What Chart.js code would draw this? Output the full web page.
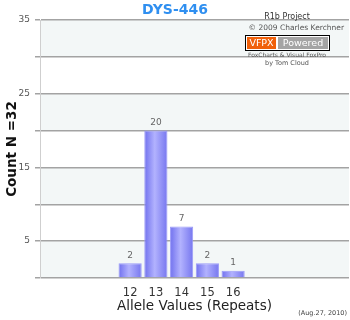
<!DOCTYPE html>
<html>
<head>
<meta charset="utf-8">
<script src="https://cdn.jsdelivr.net/npm/chart.js@4"></script>
<style>
  html, body { margin: 0; padding: 0; background: #fff; }
  #wrap { width: 350px; height: 320px; }
</style>
</head>
<body>
<div id="wrap"><canvas id="c" width="350" height="320"></canvas></div>
<script>
// allele values shown on the x axis (blank slots keep the axis width)
const alleles = ['9', '10', '11', '12', '13', '14', '15', '16', '17', '18', '19', '20'];
const shownAlleles = ['12', '13', '14', '15', '16'];
const counts = [null, null, null, 2, 20, 7, 2, 1, null, null, null, null];
const yTickLabels = [5, 15, 25, 35];

const FONT = '"DejaVu Sans", Verdana, sans-serif';

// alternating horizontal bands behind the grid
const bands = {
    id: 'bands',
    beforeDraw(chart) {
        const { ctx, chartArea: a, scales: { y } } = chart;
        ctx.save();
        ctx.fillStyle = '#f3f7f7';
        for (let v = 0; v < 35; v += 10) {
            const top = y.getPixelForValue(v + 5);
            const bot = y.getPixelForValue(v);
            ctx.fillRect(a.left, top, a.right - a.left, bot - top);
        }
        ctx.restore();
    }
};

// value labels above the bars
const valueLabels = {
    id: 'valueLabels',
    afterDatasetsDraw(chart) {
        const { ctx } = chart;
        const meta = chart.getDatasetMeta(0);
        ctx.save();
        ctx.font = '9px ' + FONT;
        ctx.fillStyle = '#666';
        ctx.textAlign = 'center';
        ctx.textBaseline = 'bottom';
        meta.data.forEach((bar, i) => {
            if (counts[i] == null) return;
            ctx.fillText(String(counts[i]), bar.x, bar.y - 3);
        });
        ctx.restore();
    }
};

// credits / badge / date texts
const notes = {
    id: 'notes',
    afterDraw(chart) {
        const { ctx } = chart;
        ctx.save();
        ctx.textBaseline = 'middle';

        ctx.font = 'bold 14px ' + FONT;
        ctx.fillStyle = '#2f8ff0';
        ctx.textAlign = 'center';
        ctx.fillText('DYS-446', 175, 10);

        ctx.font = '8px ' + FONT;
        ctx.fillStyle = '#333';
        ctx.fillText('R1b Project', 287, 17);
        ctx.font = '7.5px ' + FONT;
        ctx.fillStyle = '#555';
        ctx.textAlign = 'right';
        ctx.fillText('\u00a9 2009 Charles Kerchner', 344, 28);

        // VFPX Powered badge
        ctx.fillStyle = '#fff';
        ctx.fillRect(245, 35, 85, 16);
        ctx.strokeStyle = '#000';
        ctx.lineWidth = 1;
        ctx.strokeRect(245.5, 35.5, 84, 15);
        ctx.fillStyle = '#f0600a';
        ctx.fillRect(247, 37, 29, 12);
        ctx.fillStyle = '#a4a4a4';
        ctx.fillRect(278, 37, 50, 12);
        ctx.fillStyle = '#fff';
        ctx.textAlign = 'center';
        ctx.font = '9.5px ' + FONT;
        ctx.fillText('VFPX', 261.5, 43.5);
        ctx.fillText('Powered', 303, 43.5);

        ctx.fillStyle = '#555';
        ctx.font = '6px ' + FONT;
        ctx.fillText('FoxCharts & Visual FoxPro', 287, 55);
        ctx.font = '6.5px ' + FONT;
        ctx.fillText('by Tom Cloud', 287, 63);

        ctx.font = '6.5px ' + FONT;
        ctx.fillStyle = '#444';
        ctx.textAlign = 'right';
        ctx.fillText('(Aug.27, 2010)', 347, 313);
        ctx.restore();
    }
};

function barFill(context) {
    const chart = context.chart;
    const x = chart.scales.x;
    if (!x || x.width == null) return '#8c8cf4';
    const cx = x.getPixelForValue(context.dataIndex);
    const half = (x.width / alleles.length) * 0.9 / 2;
    const g = chart.ctx.createLinearGradient(cx - half, 0, cx + half, 0);
    g.addColorStop(0, '#7070ee');
    g.addColorStop(0.45, '#b2b2fe');
    g.addColorStop(1, '#7676ef');
    return g;
}

new Chart(document.getElementById('c'), {
    type: 'bar',
    data: {
        labels: alleles,
        datasets: [{
            data: counts,
            backgroundColor: barFill,
            borderColor: '#9a9af8',
            borderWidth: 1,
            barPercentage: 0.9,
            categoryPercentage: 1
        }]
    },
    options: {
        responsive: false,
        animation: false,
        layout: { padding: { top: 20, right: 1, left: 0, bottom: 0 } },
        plugins: { legend: { display: false }, tooltip: { enabled: false } },
        scales: {
            x: {
                grid: { display: false, drawTicks: false },
                border: { display: false },
                ticks: {
                    color: '#333',
                    font: { family: FONT, size: 11.5 },
                    padding: 8,
                    maxRotation: 0,
                    autoSkip: false,
                    callback: (v, i) => shownAlleles.includes(alleles[i]) ? alleles[i] : ''
                },
                title: {
                    display: true,
                    text: 'Allele Values (Repeats)',
                    color: '#222',
                    font: { family: FONT, size: 13.5 },
                    padding: { top: 0, bottom: 5 }
                },
                afterFit(s) { s.height = 42; }
            },
            y: {
                min: 0,
                max: 35,
                grid: { color: '#a3a3a3', lineWidth: 1.5, tickLength: 5 },
                border: { color: '#cfcfcf', width: 1 },
                ticks: {
                    stepSize: 5,
                    color: '#555',
                    font: { family: FONT, size: 9 },
                    padding: 5,
                    callback: v => yTickLabels.includes(v) ? String(v) : ''
                },
                title: {
                    display: true,
                    text: 'Count N =32',
                    color: '#111',
                    font: { family: FONT, size: 13.5, weight: 'bold' },
                    padding: { top: 4, bottom: 0 }
                },
                afterFit(s) { s.width = 40; }
            }
        }
    },
    plugins: [bands, valueLabels, notes]
});
</script>
</body>
</html>
